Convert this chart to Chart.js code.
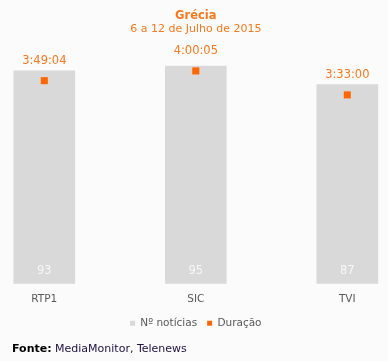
<!DOCTYPE html>
<html lang="pt">
<head>
  <meta charset="UTF-8" />
  <title>Grécia</title>
  <script src="https://cdn.jsdelivr.net/npm/chart.js"></script>
  <style>
    body {
      margin: 0;
      padding: 0;
      background: #fbfbfb;
      font-family: 'DejaVu Sans', Verdana, sans-serif;
    }

    .wrap {
      position: relative;
      width: 388px;
      height: 361px;
    }

    .fonte {
      position: absolute;
      left: 12px;
      top: 342px;
      font-size: 11px;
      color: #1d1240;
    }

    .fonte b {
      color: #000;
    }
  </style>
</head>
<body>
  <div class="wrap">
    <canvas id="chart" width="388" height="361"></canvas>
    <div class="fonte"><b>Fonte:</b> MediaMonitor, Telenews</div>
  </div>

  <script>
  const channels = ['RTP1', 'SIC', 'TVI'];
  const newsCount = [93, 95, 87];
  const durations = ['3:49:04', '4:00:05', '3:33:00'];

  // h:mm:ss -> segundos
  const toSeconds = t => t.split(':').reduce((acc, p) => acc * 60 + Number(p), 0);
  const durationSecs = durations.map(toSeconds);

  const FONT = "'DejaVu Sans', Verdana, sans-serif";
  const ORANGE = '#f47920';

  const labelsPlugin = {
    id: 'labels',
    afterDatasetsDraw(chart) {
      const ctx = chart.ctx;
      ctx.save();
      ctx.font = '11.5px ' + FONT;
      ctx.textAlign = 'center';
      ctx.textBaseline = 'middle';

      chart.getDatasetMeta(0).data.forEach((bar, i) => {
        ctx.fillStyle = '#f7f7f7';
        ctx.fillText(newsCount[i], bar.x, chart.chartArea.bottom - 12);
      });

      chart.getDatasetMeta(1).data.forEach((pt, i) => {
        ctx.fillStyle = ORANGE;
        ctx.fillText(durations[i], pt.x, pt.y - 20);
      });
      ctx.restore();
    }
  };

  new Chart(document.getElementById('chart'), {
    data: {
      labels: channels,
      datasets: [
        {
          type: 'bar',
          label: 'Nº notícias',
          data: newsCount,
          backgroundColor: '#d9d9d9',
          barThickness: 61,
          yAxisID: 'y',
          clip: false,
          order: 2
        },
        {
          type: 'line',
          label: 'Duração',
          data: durationSecs,
          showLine: false,
          borderWidth: 0,
          borderColor: '#ff6600',
          backgroundColor: '#ff6600',
          pointStyle: 'rect',
          pointRadius: 5,
          pointHoverRadius: 5,
          pointBorderWidth: 0,
          yAxisID: 'y1',
          clip: false,
          order: 1
        }
      ]
    },
    options: {
      responsive: false,
      animation: false,
      layout: {
        padding: { left: 44.3, right: 40.7, top: 0, bottom: 22.4 }
      },
      scales: {
        x: {
          offset: false,
          grid: { display: false, drawTicks: false },
          border: { display: false },
          ticks: {
            padding: 9.5,
            color: '#595959',
            font: { family: FONT, size: 10.5, lineHeight: 1.2 }
          },
          // pull the legend a bit closer to the labels
          afterFit: scale => { scale.height -= 7; }
        },
        y: { display: false, min: 0, max: 100 },
        y1: { display: false, min: 0, max: 15500 }
      },
      plugins: {
        title: {
          display: true,
          text: 'Grécia',
          color: ORANGE,
          font: { family: FONT, size: 11.5, weight: 'bold', lineHeight: 1.1 },
          padding: { top: 9.5, bottom: 0.5 }
        },
        subtitle: {
          display: true,
          text: '6 a 12 de Julho de 2015',
          color: ORANGE,
          font: { family: FONT, size: 11, lineHeight: 1.1 },
          padding: { top: 0, bottom: 20 }
        },
        legend: {
          position: 'bottom',
          labels: {
            boxWidth: 5,
            boxHeight: 5,
            padding: 10,
            color: '#595959',
            font: { family: FONT, size: 10.5, lineHeight: 1.2 },
            sort: (a, b) => a.datasetIndex - b.datasetIndex
          }
        },
        tooltip: { enabled: false }
      }
    },
    plugins: [labelsPlugin]
  });
  </script>
</body>
</html>
